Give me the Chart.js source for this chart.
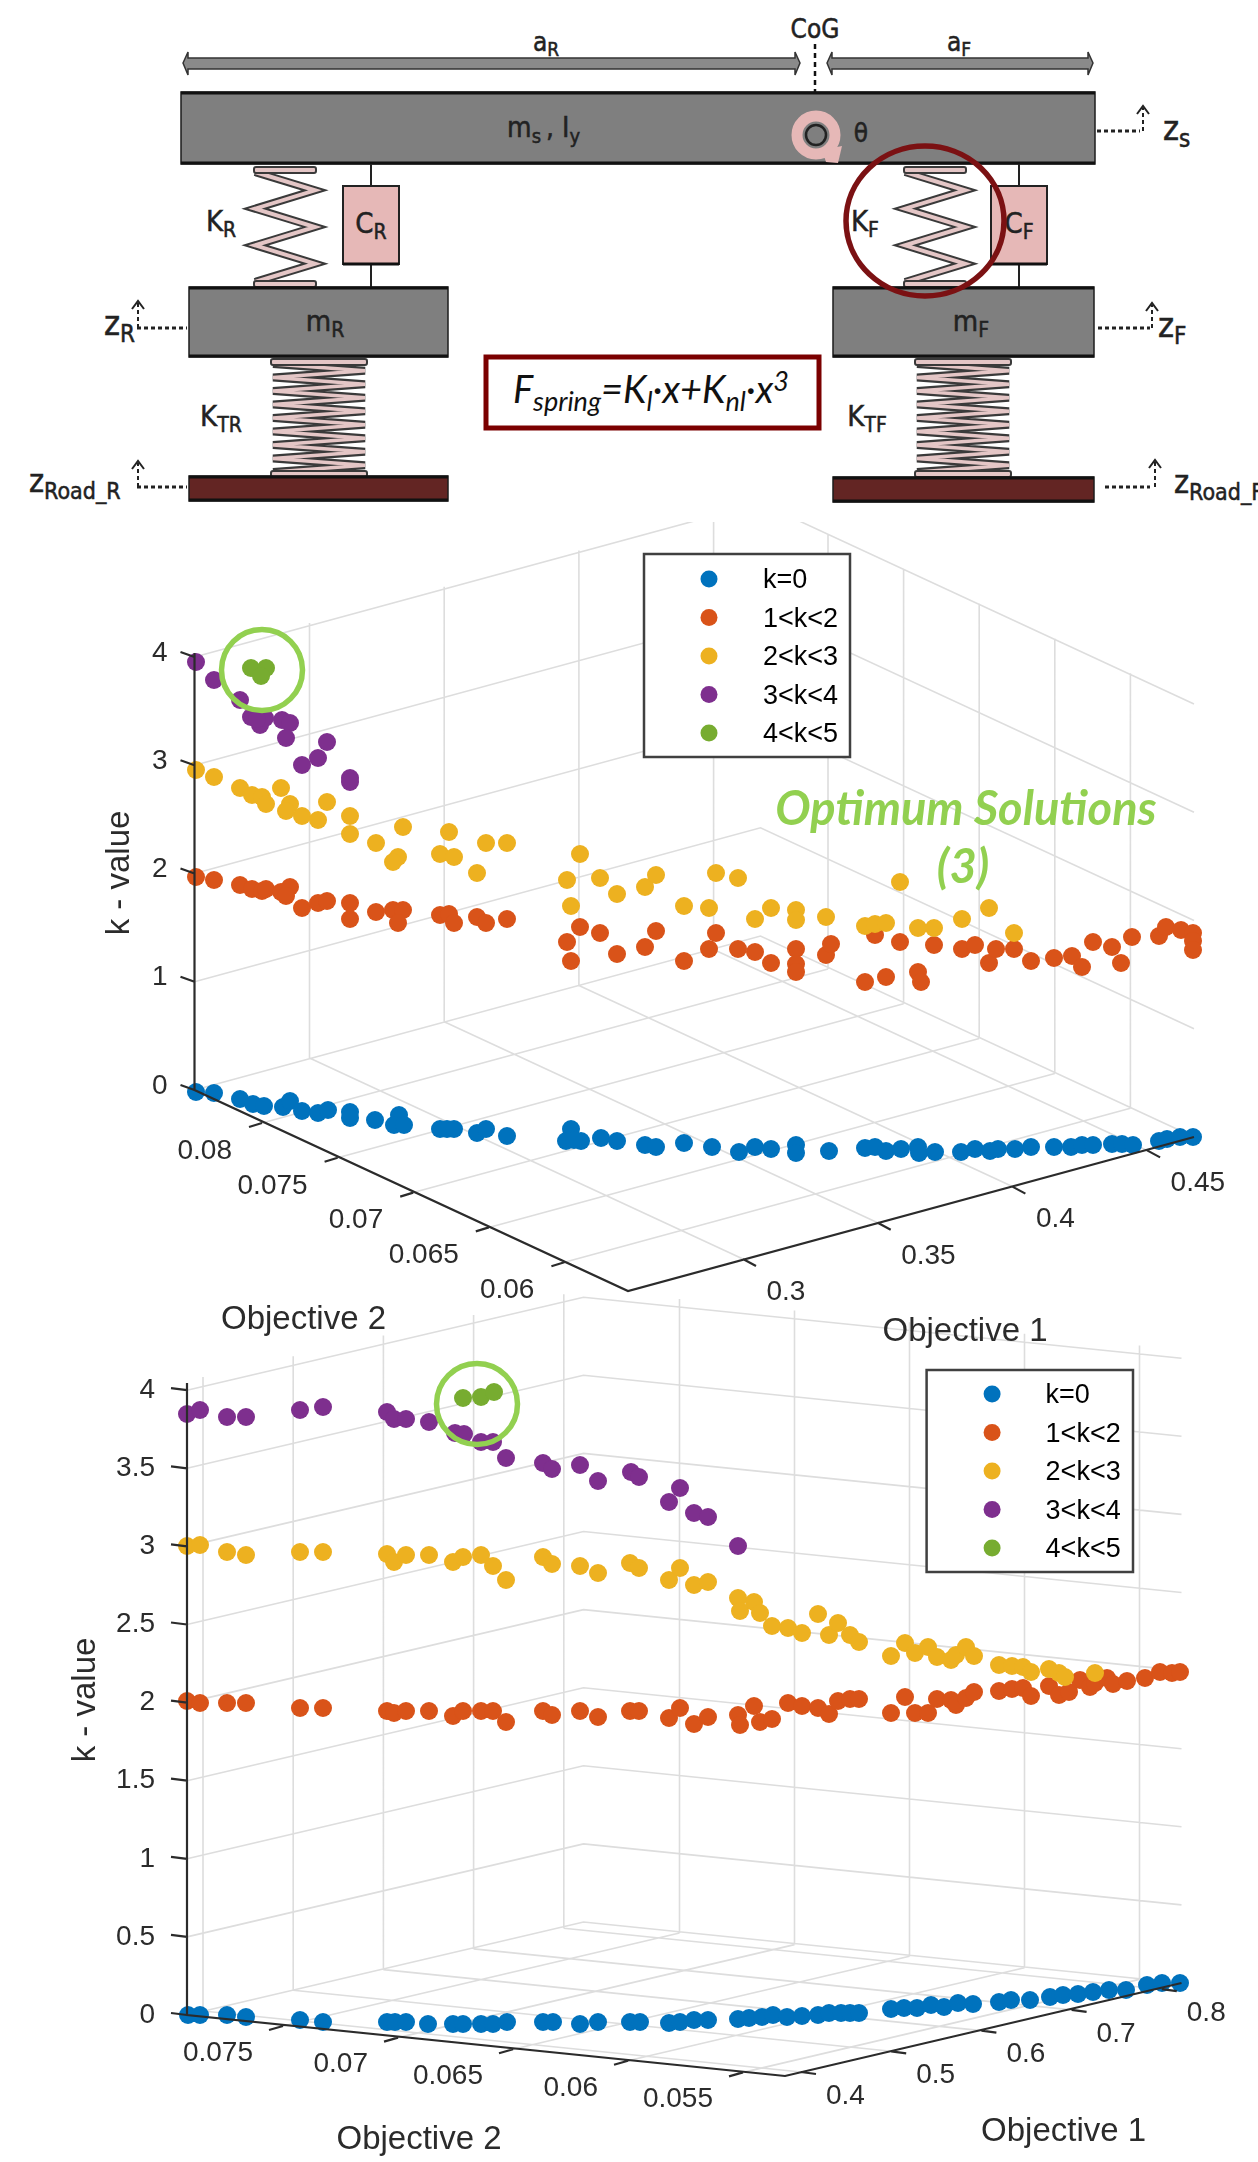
<!DOCTYPE html>
<html>
<head>
<meta charset="utf-8">
<title>Suspension model and k-value Pareto fronts</title>
<script src="https://cdn.jsdelivr.net/npm/chart.js@4/dist/chart.umd.min.js"></script>
<style>
  html, body { margin: 0; padding: 0; background: #fff; }
  #page { position: relative; width: 1258px; height: 2162px; overflow: hidden; background: #fff; }
  #page canvas, #page svg { position: absolute; left: 0; }
</style>
</head>
<body>
<div id="page">
  <svg id="model" width="1258" height="522" style="top:0"></svg>
  <canvas id="panel2" width="1258" height="882" style="top:1280px"></canvas>
  <canvas id="panel1" width="1258" height="830" style="top:522px"></canvas>
</div>
<script>
// Both 3D plots are stored: [horizontal, vertical] in the projected view
var seriesLabels = ['k=0', '1<k<2', '2<k<3', '3<k<4', '4<k<5'];
var seriesColors = ['#0072bd', '#d95319', '#edb120', '#7e2f8e', '#77ac30'];

var p1Blue = [[196,1092],[214,1093],[240,1099],[253,1104],[264,1106],[283,1107],[290,1101],[302,1111],[318,1113],[328,1110],[350,1112],[350,1118],[375,1120],[399,1115],[394,1125],[404,1125],[440,1129],[447,1129],[454,1129],[477,1133],[486,1129],[507,1136],[571,1129],[566,1141],[581,1141],[574,1140],[601,1138],[617,1141],[645,1145],[656,1147],[684,1143],[712,1147],[739,1152],[755,1147],[771,1149],[796,1145],[796,1153],[829,1151],[865,1148],[875,1147],[886,1151],[901,1149],[918,1147],[919,1153],[935,1152],[961,1152],[975,1149],[990,1151],[998,1149],[1015,1149],[1031,1147],[1054,1147],[1071,1147],[1082,1145],[1093,1145],[1112,1144],[1122,1144],[1133,1145],[1159,1141],[1167,1139],[1180,1137],[1193,1137]];
var p1Orange = [[196,877],[214,880],[240,885],[252,889],[262,891],[266,889],[281,892],[290,887],[286,896],[302,908],[318,903],[327,901],[350,903],[350,919],[376,912],[393,910],[403,910],[398,923],[440,915],[449,914],[454,923],[477,917],[486,923],[507,919],[580,927],[567,942],[571,961],[600,933],[617,954],[645,947],[656,931],[684,961],[709,949],[716,933],[738,949],[755,952],[771,963],[796,949],[796,964],[796,972],[826,955],[831,944],[865,982],[875,935],[886,977],[900,942],[918,972],[921,982],[934,945],[962,949],[975,945],[989,963],[996,949],[1014,949],[1031,961],[1054,958],[1072,956],[1082,967],[1093,942],[1112,947],[1121,963],[1132,937],[1159,936],[1166,927],[1181,930],[1193,933],[1193,941],[1193,950]];
var p1Yellow = [[196,770],[214,777],[240,788],[252,795],[262,797],[266,804],[281,788],[290,804],[286,811],[302,816],[318,820],[327,802],[350,816],[350,834],[376,843],[403,827],[398,857],[393,862],[440,854],[449,832],[454,857],[477,873],[486,843],[507,843],[580,854],[567,880],[571,906],[600,878],[617,894],[645,887],[656,875],[684,906],[709,908],[716,873],[738,878],[755,919],[771,908],[796,910],[796,920],[826,917],[865,926],[875,924],[886,923],[900,882],[918,928],[934,928],[962,919],[989,908],[1014,933]];
var p1Purple = [[196,662],[214,680],[240,700],[251,717],[260,725],[265,718],[257,719],[282,720],[290,723],[286,738],[327,742],[318,758],[302,765],[350,778],[350,782]];
var p1Green = [[251,668],[266,668],[261,676]];

var p2Blue = [[188,2015],[200,2015],[227,2015],[246,2017],[300,2020],[323,2022],[387,2022],[395,2022],[406,2022],[428,2024],[453,2024],[463,2024],[481,2024],[493,2024],[507,2022],[543,2022],[553,2022],[580,2024],[598,2022],[630,2022],[640,2022],[669,2023],[680,2022],[694,2020],[708,2020],[738,2019],[749,2018],[762,2017],[773,2015],[787,2017],[802,2016],[818,2015],[829,2013],[841,2013],[850,2013],[859,2013],[891,2009],[904,2008],[917,2008],[931,2005],[944,2007],[958,2003],[973,2004],[999,2002],[1011,2000],[1030,2000],[1050,1997],[1063,1995],[1078,1994],[1093,1992],[1109,1990],[1126,1990],[1147,1985],[1162,1983],[1180,1983]];
var p2Orange = [[187,1701],[200,1703],[227,1703],[246,1703],[300,1708],[323,1708],[387,1711],[394,1713],[406,1711],[429,1711],[453,1716],[463,1711],[481,1711],[493,1711],[506,1722],[543,1711],[552,1715],[580,1711],[598,1717],[630,1711],[639,1711],[669,1718],[680,1708],[694,1724],[708,1717],[738,1715],[740,1725],[754,1706],[760,1722],[772,1719],[788,1703],[802,1706],[818,1708],[829,1714],[838,1701],[850,1699],[859,1699],[891,1713],[905,1697],[915,1713],[928,1713],[937,1699],[951,1700],[956,1705],[966,1698],[974,1692],[999,1691],[1012,1689],[1023,1688],[1031,1696],[1049,1686],[1059,1695],[1069,1692],[1080,1680],[1090,1687],[1095,1683],[1107,1678],[1113,1684],[1127,1681],[1145,1678],[1160,1672],[1172,1673],[1180,1672]];
var p2Yellow = [[187,1546],[200,1545],[227,1552],[246,1555],[300,1552],[323,1552],[387,1554],[394,1562],[406,1555],[429,1555],[453,1562],[463,1557],[481,1555],[493,1566],[506,1580],[543,1557],[552,1564],[580,1566],[598,1573],[630,1563],[639,1568],[669,1580],[680,1568],[694,1585],[708,1582],[738,1598],[740,1611],[754,1602],[760,1613],[772,1626],[788,1628],[802,1633],[818,1614],[829,1635],[838,1623],[850,1635],[859,1642],[891,1656],[905,1643],[915,1653],[928,1647],[937,1657],[951,1660],[956,1655],[966,1647],[974,1656],[999,1665],[1012,1666],[1023,1667],[1031,1672],[1049,1669],[1059,1673],[1065,1677],[1095,1673]];
var p2Purple = [[187,1414],[200,1410],[227,1417],[246,1417],[300,1410],[323,1407],[387,1412],[394,1419],[406,1419],[429,1422],[455,1433],[464,1434],[481,1442],[493,1442],[506,1458],[543,1463],[552,1469],[580,1465],[598,1481],[631,1472],[639,1477],[680,1488],[669,1502],[694,1513],[708,1517],[738,1546]];
var p2Green = [[463,1398],[481,1397],[494,1392]];

// Tick labels
var p1KTicks = ['0', '1', '2', '3', '4'];
var p1Obj1Ticks = ['0.3', '0.35', '0.4', '0.45'];
var p1Obj2Ticks = ['0.08', '0.075', '0.07', '0.065', '0.06'];

var p2KTicks = ['0', '0.5', '1', '1.5', '2', '2.5', '3', '3.5', '4'];
var p2Obj1Ticks = ['0.4', '0.5', '0.6', '0.7', '0.8'];
var p2Obj2Ticks = ['0.075', '0.07', '0.065', '0.06', '0.055'];

var tickFont = '28px "Liberation Sans", Arial, sans-serif';
var titleFont = '33px "Liberation Sans", Arial, sans-serif';
var legendFont = '27px "Liberation Sans", Arial, sans-serif';
var textColor = '#2b2b2b';
var gap = { x: NaN, y: NaN };

function add(a, b) { return [a[0] + b[0], a[1] + b[1]]; }
function sub(a, b) { return [a[0] - b[0], a[1] - b[1]]; }
function toXY(list) { return list.map(function (p) { return { x: p[0], y: p[1] }; }); }

// Turn [[from, to], ...] into one dataset line, broken by gaps
function segments(list) {
  var out = [];
  list.forEach(function (s) {
    for (var i = 0; i < s.length; i++) { out.push({ x: s[i][0], y: s[i][1] }); }
    out.push(gap);
  });
  return out;
}

function tickPoints(start, step, labels) {
  return labels.map(function (l, i) { return [start[0] + step[0] * i, start[1] + step[1] * i]; });
}

function makePanel(canvasId, cfg) {
  var alongLeft = sub(cfg.bottom, cfg.left);
  var alongRight = sub(cfg.right, cfg.bottom);
  var back = add(cfg.left, alongRight);
  var obj1Pts = tickPoints(cfg.obj1Start, cfg.obj1Step, cfg.obj1Ticks);
  var obj2Pts = tickPoints(cfg.obj2Start, cfg.obj2Step, cfg.obj2Ticks);

  // Grid on the floor and on the two back walls
  var grid = [];
  obj1Pts.forEach(function (t) {
    var b = sub(t, alongLeft);
    grid.push([t, b]);
    grid.push([b, [b[0], b[1] - cfg.wallHeight]]);
  });
  obj2Pts.forEach(function (t) {
    var b = add(t, alongRight);
    grid.push([t, b]);
    grid.push([b, [b[0], b[1] - cfg.wallHeight]]);
  });
  cfg.kTicks.forEach(function (l, i) {
    var h = cfg.kStep * i;
    grid.push([[cfg.left[0], cfg.left[1] - h], [back[0], back[1] - h], [cfg.right[0], cfg.right[1] - h]]);
  });

  // Axis lines and tick marks
  var axes = [[[cfg.left[0], cfg.left[1] - cfg.axisHeight], cfg.left, cfg.bottom, cfg.right]];
  cfg.kTicks.forEach(function (l, i) {
    var p = [cfg.left[0], cfg.left[1] - cfg.kStep * i];
    axes.push([p, add(p, cfg.kTickMark)]);
  });
  obj1Pts.forEach(function (t) { axes.push([t, add(t, cfg.obj1TickMark)]); });
  obj2Pts.forEach(function (t) { axes.push([t, add(t, cfg.obj2TickMark)]); });

  var datasets = [];

  cfg.series.forEach(function (values, i) {
    datasets.push({
      label: seriesLabels[i],
      isSeries: true,
      data: toXY(values),
      order: 5 - i,
      showLine: false,
      pointRadius: 9,
      pointBorderWidth: 0,
      backgroundColor: seriesColors[i],
      borderColor: seriesColors[i]
    });
  });

  datasets.push({ label: 'grid', data: segments(grid), order: 6, showLine: true, pointRadius: 0, borderWidth: 1.6, borderColor: '#dddddd', spanGaps: false });

  datasets.push({ label: 'axes', data: segments(axes), order: 0, showLine: true, pointRadius: 0, borderWidth: 2.2, borderColor: '#2b2b2b', spanGaps: false });

  // Texts, legend and the green marker ring
  var annotate = {
    id: 'annotate',
    afterDatasetsDraw: function (chart) {
      var ctx = chart.ctx;
      var xs = chart.scales.x;
      var ys = chart.scales.y;
      function px(p) { return [xs.getPixelForValue(p[0]), ys.getPixelForValue(p[1])]; }
      function put(text, p, align) {
        var q = px(p);
        ctx.textAlign = align;
        ctx.fillText(text, q[0], q[1]);
      }

      ctx.save();
      ctx.textBaseline = 'middle';
      ctx.fillStyle = textColor;
      ctx.font = tickFont;

      cfg.kTicks.forEach(function (l, i) {
        put(l, [cfg.left[0] + cfg.kLabelOffset[0], cfg.left[1] - cfg.kStep * i + cfg.kLabelOffset[1]], 'right');
      });
      obj1Pts.forEach(function (t, i) { put(cfg.obj1Ticks[i], add(t, cfg.obj1LabelOffset), 'left'); });
      obj2Pts.forEach(function (t, i) { put(cfg.obj2Ticks[i], add(t, cfg.obj2LabelOffset), 'right'); });

      ctx.font = titleFont;
      put('Objective 1', cfg.obj1Title, 'center');
      put('Objective 2', cfg.obj2Title, 'center');

      var kp = px(cfg.kTitle);
      ctx.save();
      ctx.translate(kp[0], kp[1]);
      ctx.rotate(-Math.PI / 2);
      ctx.textAlign = 'center';
      ctx.fillText('k - value', 0, 0);
      ctx.restore();

      // Green ring round the optimum solutions
      var c = px(cfg.ring);
      ctx.beginPath();
      ctx.arc(c[0], c[1], 40.5, 0, Math.PI * 2);
      ctx.lineWidth = 5.5;
      ctx.strokeStyle = '#92d050';
      ctx.stroke();

      if (cfg.note) {
        ctx.fillStyle = '#92d050';
        ctx.font = 'italic 700 47px Lato, "Open Sans", sans-serif';
        put('Optimum Solutions', cfg.note[0], 'center');
        put('(3)', cfg.note[1], 'center');
      }

      // Legend box
      var box = cfg.legend;
      var tl = px([box.x, box.y]);
      ctx.fillStyle = '#ffffff';
      ctx.fillRect(tl[0], tl[1], box.w, box.h);
      ctx.lineWidth = 2.5;
      ctx.strokeStyle = '#404040';
      ctx.strokeRect(tl[0], tl[1], box.w, box.h);
      ctx.font = legendFont;
      ctx.textAlign = 'left';
      chart.data.datasets.filter(function (d) { return d.isSeries; }).forEach(function (d, i) {
        var my = tl[1] + box.firstRow + box.rowStep * i;
        ctx.beginPath();
        ctx.arc(tl[0] + box.markerX, my, 8.5, 0, Math.PI * 2);
        ctx.fillStyle = d.backgroundColor;
        ctx.fill();
        ctx.fillStyle = '#000000';
        ctx.fillText(d.label, tl[0] + box.textX, my + 2);
      });
      ctx.restore();
    }
  };

  return new Chart(document.getElementById(canvasId), {
    type: 'scatter',
    data: { datasets: datasets },
    options: {
      responsive: false,
      animation: false,
      events: [],
      layout: { padding: 0, autoPadding: false },
      plugins: { legend: { display: false }, tooltip: { enabled: false } },
      scales: {
        x: { type: 'linear', display: false, min: 0, max: 1258 },
        y: { type: 'linear', display: false, reverse: true, min: cfg.top, max: cfg.top + cfg.height }
      }
    },
    plugins: [annotate]
  });
}

makePanel('panel1', {
  top: 522, height: 830,
  series: [p1Blue, p1Orange, p1Yellow, p1Purple, p1Green],
  left: [194.5, 1090], bottom: [628, 1291], right: [1194, 1137],
  kTicks: p1KTicks, kStep: 108.25, wallHeight: 435, axisHeight: 437,
  obj1Ticks: p1Obj1Ticks, obj1Start: [743, 1259], obj1Step: [134.7, -36.2],
  obj2Ticks: p1Obj2Ticks, obj2Start: [262, 1123], obj2Step: [75.6, 34.8],
  kTickMark: [-14, -5], obj1TickMark: [13, 7], obj2TickMark: [-13, 4],
  kLabelOffset: [-27, -4], obj1LabelOffset: [23.5, 33], obj2LabelOffset: [-30, 28],
  obj1Title: [965, 1332], obj2Title: [303.5, 1320], kTitle: [120, 873],
  ring: [262, 670],
  note: [[966, 810], [963, 868]],
  legend: { x: 644, y: 554, w: 206, h: 203, firstRow: 25, rowStep: 38.5, markerX: 65, textX: 119 }
});

makePanel('panel2', {
  top: 1280, height: 882,
  series: [p2Blue, p2Orange, p2Yellow, p2Purple, p2Green],
  left: [187, 2015], bottom: [785, 2076], right: [1181.5, 1983],
  kTicks: p2KTicks, kStep: 78.1, wallHeight: 634, axisHeight: 632,
  obj1Ticks: p2Obj1Ticks, obj1Start: [801, 2072], obj1Step: [90.2, -20.7],
  obj2Ticks: p2Obj2Ticks, obj2Start: [283, 2026], obj2Step: [115, 11.6],
  kTickMark: [-16, -2], obj1TickMark: [15, 2], obj2TickMark: [-14, 4],
  kLabelOffset: [-32, 0], obj1LabelOffset: [25, 24], obj2LabelOffset: [-30, 27],
  obj1Title: [1063.6, 2132], obj2Title: [419, 2140], kTitle: [86, 1700],
  ring: [477, 1404],
  legend: { x: 926.6, y: 1370, w: 206.4, h: 202, firstRow: 24, rowStep: 38.5, markerX: 65.5, textX: 119 }
});

// Suspension sketch above the plots
var modelFont = '"DejaVu Sans Condensed", "DejaVu Sans", sans-serif';
var svgParts = [];

function shape(s) { svgParts.push(s); }

function box(x, y, w, h, fill) {
  shape('<rect x="' + x + '" y="' + y + '" width="' + w + '" height="' + h + '" fill="' + fill + '" stroke="#1c1c1c" stroke-width="1.5"/>');
  shape('<line x1="' + x + '" x2="' + (x + w) + '" y1="' + (y + 1) + '" y2="' + (y + 1) + '" stroke="#111" stroke-width="3"/>');
  shape('<line x1="' + x + '" x2="' + (x + w) + '" y1="' + (y + h - 1) + '" y2="' + (y + h - 1) + '" stroke="#111" stroke-width="3"/>');
}

function label(x, y, main, subText, size, anchor, fill) {
  var subSize = Math.round(size * 0.72);
  shape('<text x="' + x + '" y="' + y + '" font-family=\'' + modelFont + '\' font-size="' + size + '" stroke="#222" stroke-width="0.5" fill="' + (fill || '#222') + '" text-anchor="' + (anchor || 'middle') + '" dominant-baseline="middle">' + main +
    (subText ? '<tspan font-size="' + subSize + '" dy="' + Math.round(size * 0.28) + '">' + subText + '</tspan>' : '') + '</text>');
}

function spring(cx, halfW, y0, y1, turns, plateHalf, outer, inner) {
  var pts = [];
  for (var i = 0; i <= turns; i++) {
    var x = i % 2 === 0 ? cx - halfW : cx + halfW;
    pts.push(x + ',' + (y0 + (y1 - y0) * i / turns));
  }
  var line = pts.join(' ');
  shape('<polyline points="' + line + '" fill="none" stroke="#3a3a3a" stroke-width="' + outer + '"/>');
  shape('<polyline points="' + line + '" fill="none" stroke="#e4c6c6" stroke-width="' + inner + '"/>');
  shape('<rect x="' + (cx - plateHalf) + '" y="' + (y0 - 5) + '" width="' + (plateHalf * 2) + '" height="6" rx="2" fill="#e4c6c6" stroke="#3a3a3a" stroke-width="2"/>');
  shape('<rect x="' + (cx - plateHalf) + '" y="' + (y1 - 1) + '" width="' + (plateHalf * 2) + '" height="6" rx="2" fill="#e4c6c6" stroke="#3a3a3a" stroke-width="2"/>');
}

function damper(cx, x, w) {
  shape('<line x1="' + cx + '" x2="' + cx + '" y1="164" y2="287" stroke="#222" stroke-width="2"/>');
  shape('<rect x="' + x + '" y="186" width="' + w + '" height="78" fill="#e6b8b7" stroke="#222" stroke-width="2"/>');
  shape('<line x1="' + x + '" x2="' + (x + w) + '" y1="264" y2="264" stroke="#111" stroke-width="3"/>');
}

function zArrow(x1, x2, y, ax, topY) {
  shape('<line x1="' + x1 + '" x2="' + x2 + '" y1="' + y + '" y2="' + y + '" stroke="#222" stroke-width="3" stroke-dasharray="4 3"/>');
  shape('<line x1="' + ax + '" x2="' + ax + '" y1="' + y + '" y2="' + topY + '" stroke="#222" stroke-width="2" stroke-dasharray="4 3"/>');
  shape('<polyline points="' + (ax - 6) + ',' + (topY + 6) + ' ' + ax + ',' + (topY - 2) + ' ' + (ax + 6) + ',' + (topY + 6) + '" fill="none" stroke="#222" stroke-width="2"/>');
}

function dimArrow(x0, x1) {
  var p = [[x0, 63], [x0 + 5, 52], [x0 + 5, 58], [x1 - 5, 58], [x1 - 5, 52], [x1, 63], [x1 - 5, 75], [x1 - 5, 69], [x0 + 5, 69], [x0 + 5, 75]];
  shape('<polygon points="' + p.join(' ') + '" fill="#8a8a8a" stroke="#333" stroke-width="1.5"/>');
}

dimArrow(183, 800);
dimArrow(827, 1093);
shape('<line x1="815" x2="815" y1="44" y2="92" stroke="#111" stroke-width="2.5" stroke-dasharray="5 4"/>');
label(815, 30, 'CoG', '', 26);
label(546, 43, 'a', 'R', 26);
label(959, 43, 'a', 'F', 26);

box(181, 92, 914, 72, '#7f7f7f');
label(541, 129, 'm', 's', 28, 'end');
label(546, 129, ', I', 'y', 28, 'start');
shape('<circle cx="816" cy="135" r="19" fill="none" stroke="#e6b8b7" stroke-width="11"/>');
shape('<circle cx="816" cy="135" r="10" fill="#7f7f7f" stroke="#222" stroke-width="2.5"/>');
shape('<polygon points="822,150 842,146 838,163 826,162" fill="#e6b8b7"/>');
label(861, 134, 'θ', '', 26);
zArrow(1097, 1140, 131, 1143, 108);
label(1163, 130, 'z', 's', 34, 'start');

spring(285, 30, 172, 282, 6, 31, 8, 4);
damper(371, 343, 56);
label(371, 225, 'C', 'R', 29);
label(221, 223, 'K', 'R', 29);
box(189, 287, 259, 70, '#7f7f7f');
label(325, 323, 'm', 'R', 29);
zArrow(137, 187, 328, 138, 303);
label(104, 325, 'z', 'R', 34, 'start');
spring(319, 46, 364, 472, 16, 48, 8, 3.5);
label(221, 418, 'K', 'TR', 29);
box(189, 476, 259, 25, '#632523');
zArrow(137, 187, 487, 138, 463);
label(29, 483, 'z', 'Road_R', 32, 'start');

spring(935, 30, 172, 282, 6, 31, 8, 4);
damper(1019, 991, 56);
label(1019, 225, 'C', 'F', 29);
label(865, 223, 'K', 'F', 29);
box(833, 287, 261, 70, '#7f7f7f');
label(971, 323, 'm', 'F', 29);
zArrow(1098, 1150, 328, 1152, 305);
label(1158, 327, 'z', 'F', 34, 'start');
spring(963, 46, 364, 472, 16, 48, 8, 3.5);
label(867, 418, 'K', 'TF', 29);
box(833, 477, 261, 25, '#632523');
zArrow(1105, 1150, 487, 1155, 462);
label(1174, 484, 'z', 'Road_F', 32, 'start');

shape('<ellipse cx="925" cy="221" rx="79" ry="75" fill="none" stroke="#7b1113" stroke-width="5.5"/>');

shape('<rect x="486" y="357" width="333" height="71" fill="#fff" stroke="#7b0000" stroke-width="5"/>');
shape('<text x="651" y="403" text-anchor="middle" font-family="Lato, \'Open Sans\', sans-serif" font-style="italic" font-size="38" fill="#111">F' +
  '<tspan font-size="27" dy="8">spring</tspan><tspan dy="-8">=K</tspan><tspan font-size="27" dy="8">l</tspan><tspan dy="-8">·x+K</tspan><tspan font-size="27" dy="8">nl</tspan><tspan dy="-8">·x</tspan><tspan font-size="27" dy="-12">3</tspan></text>');

document.getElementById('model').innerHTML = svgParts.join('');
</script>
</body>
</html>
